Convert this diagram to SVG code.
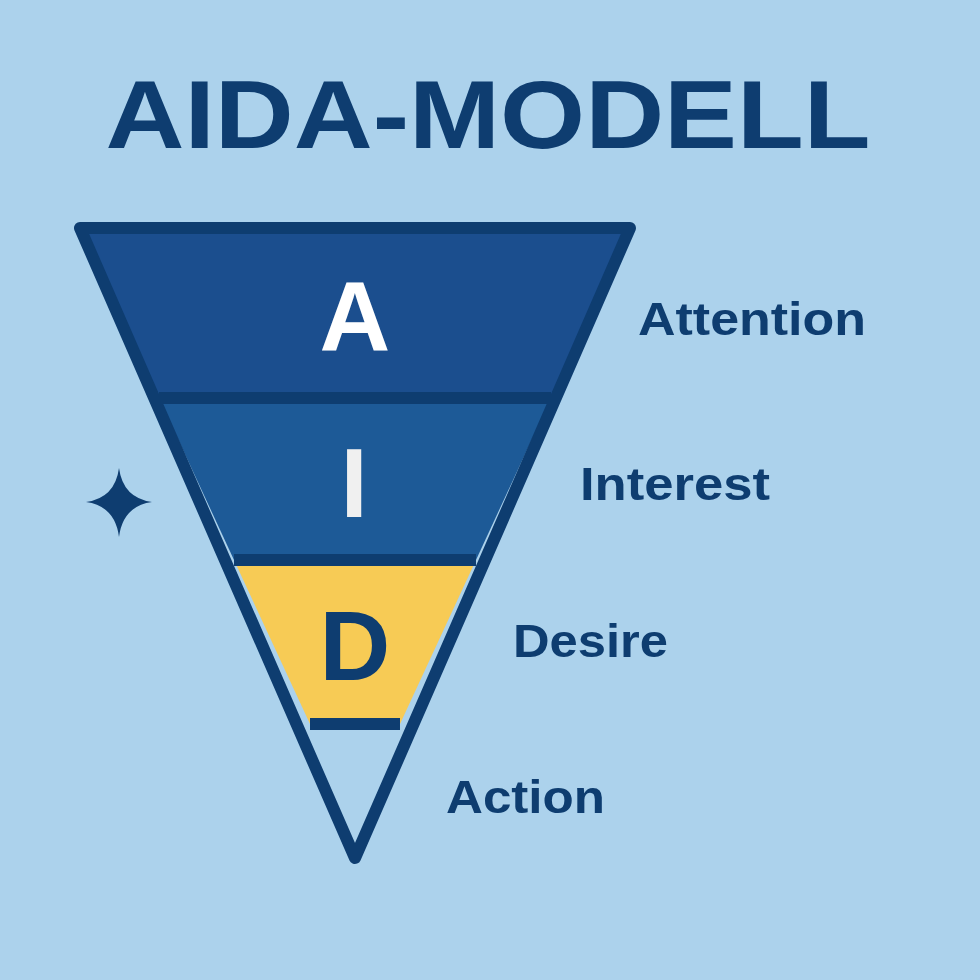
<svg xmlns="http://www.w3.org/2000/svg" width="980" height="980" viewBox="0 0 980 980">
<style>
.t{font-family:"Liberation Sans",Arial,sans-serif;font-weight:bold;fill:#0e3d70}
.lab{font-size:46px}
.big{font-size:98px;text-anchor:middle}
</style>
<rect width="980" height="980" fill="#acd2ec"/>
<text class="t" x="488" y="148" font-size="96" text-anchor="middle" textLength="765" lengthAdjust="spacingAndGlyphs">AIDA-MODELL</text>
<g id="star"><path d="M119 468 Q123 498 152 502 Q123 506 119 537 Q115 506 86 502 Q115 498 119 468 Z" fill="#0e3d70"/></g>
<g id="funnel">
<polygon points="80,228 630,228 551,398 159,398" fill="#1b4e8e"/>
<polygon points="159,398 551,398 476,560 234,560" fill="#1d5a97"/>
<polygon points="234,560 476,560 400,724 310,724" fill="#f7cb55"/>
<polygon points="80,228 630,228 355,858" fill="none" stroke="#0e3d70" stroke-width="12" stroke-linejoin="round"/>
<line x1="159" y1="398" x2="551" y2="398" stroke="#0e3d70" stroke-width="12"/>
<line x1="234" y1="560" x2="476" y2="560" stroke="#0e3d70" stroke-width="12"/>
<line x1="310" y1="724" x2="400" y2="724" stroke="#0e3d70" stroke-width="12"/>
</g>
<g id="letters">
<text class="t big" x="355" y="350" style="fill:#ffffff">A</text>
<text class="t big" x="354" y="517" style="fill:#f0f0f0">I</text>
<text class="t big" x="355" y="680">D</text>
</g>
<g id="labels">
<text class="t lab" x="638" y="335" textLength="228" lengthAdjust="spacingAndGlyphs">Attention</text>
<text class="t lab" x="580" y="500" textLength="190" lengthAdjust="spacingAndGlyphs">Interest</text>
<text class="t lab" x="513" y="657" textLength="155" lengthAdjust="spacingAndGlyphs">Desire</text>
<text class="t lab" x="446" y="813" textLength="159" lengthAdjust="spacingAndGlyphs">Action</text>
</g>
</svg>
